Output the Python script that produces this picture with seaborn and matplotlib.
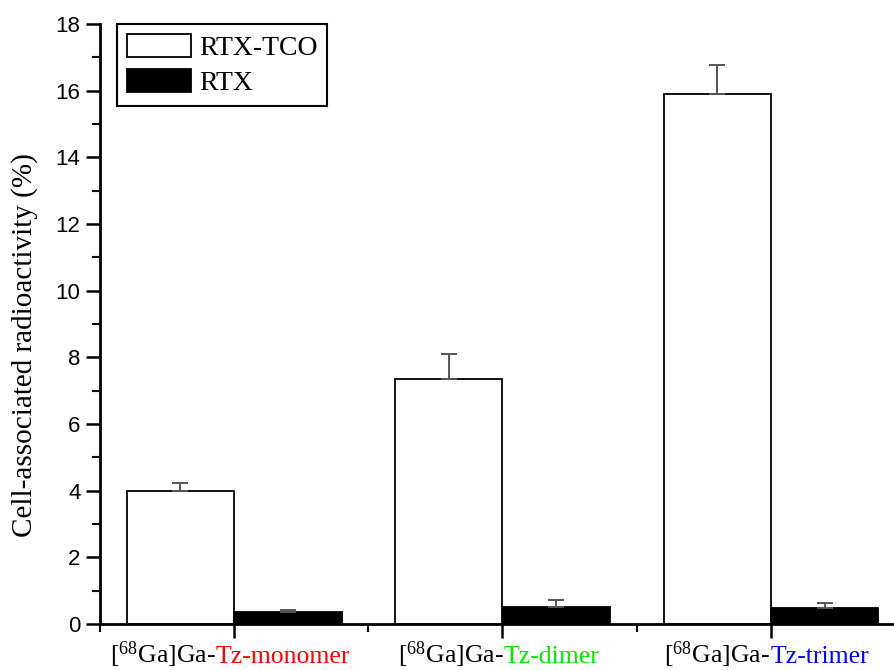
import matplotlib
matplotlib.use('Agg')
import matplotlib.pyplot as plt
import seaborn as sns
import pandas as pd
from matplotlib.offsetbox import TextArea, HPacker, AnnotationBbox
from matplotlib.ticker import MultipleLocator, FixedLocator

# ---- data ----
compounds = ['Tz-monomer', 'Tz-dimer', 'Tz-trimer']
label_colors = ['#ff0000', '#00e600', '#0000ff']
groups = ['RTX-TCO', 'RTX']
rtx_tco = [3.99, 7.34, 15.90]
rtx_tco_err = [0.23, 0.76, 0.86]
rtx = [0.37, 0.50, 0.49]
rtx_err = [0.06, 0.23, 0.15]

df = pd.DataFrame({
    'compound': compounds * 2,
    'group': [groups[0]] * 3 + [groups[1]] * 3,
    'value': rtx_tco + rtx,
})
errs = [rtx_tco_err, rtx_err]

sns.set_style('ticks')
plt.rcParams['font.family'] = ['Liberation Serif', 'DejaVu Serif']
plt.rcParams['mathtext.fontset'] = 'custom'
plt.rcParams['mathtext.rm'] = 'Liberation Serif'
plt.rcParams['mathtext.it'] = 'Liberation Serif:italic'
plt.rcParams['mathtext.bf'] = 'Liberation Serif:bold'
for k in ['text.color', 'axes.labelcolor', 'xtick.color', 'ytick.color', 'axes.edgecolor']:
    plt.rcParams[k] = 'black'

fig = plt.figure(figsize=(8.95, 6.70), dpi=100)
ax = fig.add_axes([100 / 895, 1 - 624 / 670, 805 / 895, 600 / 670])

sns.barplot(data=df, x='compound', y='value', hue='group', hue_order=groups,
            palette=['white', 'black'], edgecolor='black', linewidth=1.3,
            saturation=1, errorbar=None, width=0.8, ax=ax)

# error bars (upper only)
for cont, err in zip(ax.containers, errs):
    for bar, e in zip(cont.patches, err):
        xc = bar.get_x() + bar.get_width() / 2
        ax.errorbar(xc, bar.get_height(), yerr=[[0], [e]], fmt='none',
                    ecolor='#555555', elinewidth=1.4, capsize=6, capthick=1.4,
                    zorder=1)

ax.set_xlim(-0.5, 2.5)
ax.set_ylim(0, 18)

# spines & ticks
sns.despine(ax=ax)
for s in ['left', 'bottom']:
    ax.spines[s].set_linewidth(2)
    ax.spines[s].set_color('black')

ax.yaxis.set_major_locator(MultipleLocator(2))
ax.yaxis.set_minor_locator(MultipleLocator(1))
ax.xaxis.set_major_locator(FixedLocator([0, 1, 2]))
ax.xaxis.set_minor_locator(FixedLocator([-0.5, 0.5, 1.5, 2.5]))
ax.set_xticklabels(['', '', ''])
ax.tick_params(axis='both', which='major', length=10, width=1.8, direction='out', color='black')
ax.tick_params(axis='both', which='minor', length=6, width=1.5, direction='out', color='black')
ax.tick_params(axis='y', labelsize=16, pad=4, labelcolor='black')
for lab in ax.get_yticklabels():
    lab.set_family(['Liberation Sans', 'DejaVu Sans'])

ax.set_xlabel('')
ax.set_ylabel('Cell-associated radioactivity (%)', fontsize=21, color='black')
ax.yaxis.set_label_coords((38 - 100) / 805, (624 - 345) / 600)

# multi-colour x tick labels
for i, (c, col) in enumerate(zip(compounds, label_colors)):
    t1 = TextArea(r'[$^{68}$Ga]Ga-', textprops=dict(color='black', fontsize=18.5))
    t2 = TextArea(c, textprops=dict(color=col, fontsize=18.5))
    box = HPacker(children=[t1, t2], align='baseline', pad=0, sep=0)
    ab = AnnotationBbox(box, (i, 0), xycoords=ax.get_xaxis_transform(),
                        xybox=(-3, -11), boxcoords='offset points',
                        box_alignment=(0.5, 1), frameon=False,
                        annotation_clip=False)
    ax.add_artist(ab)

# legend
handles, labels = ax.get_legend_handles_labels()
leg = ax.legend(handles, labels, loc='upper left', bbox_to_anchor=(17 / 805, 1.0),
                fontsize=20, frameon=True, fancybox=False, framealpha=1,
                edgecolor='black', handlelength=2.3, handleheight=0.9,
                labelspacing=0.3, handletextpad=0.3, borderpad=0.35,
                borderaxespad=0.0)
leg.get_frame().set_linewidth(1.5)
for h in leg.legend_handles:
    h.set_edgecolor('black')
    h.set_linewidth(1.3)

fig.savefig('out.png', dpi=100)
